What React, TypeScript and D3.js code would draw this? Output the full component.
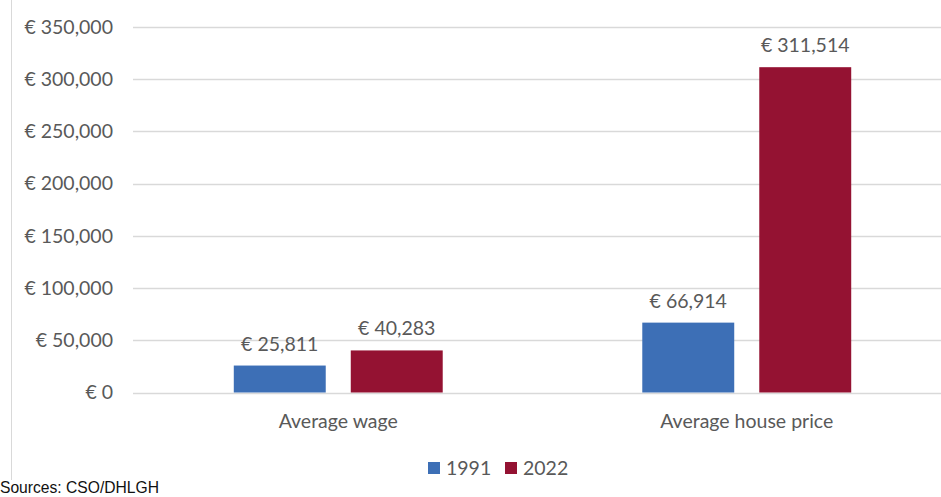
import * as d3 from "d3";
import { useEffect, useRef } from "react";

const categories = ["Average wage", "Average house price"];
const years = ["1991", "2022"];
const values1991 = [25811, 66914];
const values2022 = [40283, 311514];
const yTicks = [0, 50000, 100000, 150000, 200000, 250000, 300000, 350000];
const source = "Sources: CSO/DHLGH";

const colors: Record<string, string> = { "1991": "#3d6fb6", "2022": "#941232" };

const App = () => {
  const ref = useRef<SVGSVGElement | null>(null);

  useEffect(() => {
    document.body.style.margin = "0";
    const svg = d3.select(ref.current);
    svg.selectAll("*").remove();

    const width = 941;
    const font = "Lato, 'Open Sans', sans-serif";
    const fontSize = "19.5px";
    const textColor = "#595959";

    const x0 = d3.scaleBand().domain(categories).range([134, 951]).padding(0);
    const x1 = d3
      .scaleBand()
      .domain(years)
      .range([0, x0.bandwidth()])
      .paddingInner(0.214)
      .paddingOuter(0.853);
    const y = d3.scaleLinear().domain([0, 350000]).range([392.5, 27]);

    const rows = categories.map((c, i) => ({
      category: c,
      values: [
        { year: "1991", value: values1991[i] },
        { year: "2022", value: values2022[i] },
      ],
    }));

    // left frame line
    svg
      .append("line")
      .attr("x1", 11.5)
      .attr("x2", 11.5)
      .attr("y1", 0)
      .attr("y2", 480)
      .attr("stroke", "#d9d9d9")
      .attr("stroke-width", 1);

    // gridlines
    svg
      .append("g")
      .selectAll("line")
      .data(yTicks)
      .enter()
      .append("line")
      .attr("x1", 133)
      .attr("x2", width)
      .attr("y1", (d) => Math.round(y(d)) + 0.5)
      .attr("y2", (d) => Math.round(y(d)) + 0.5)
      .attr("stroke", "#d9d9d9")
      .attr("stroke-width", 1.5);

    // y tick labels
    svg
      .append("g")
      .selectAll("text")
      .data(yTicks)
      .enter()
      .append("text")
      .attr("x", 113)
      .attr("y", (d) => y(d))
      .attr("dy", "0.35em")
      .attr("text-anchor", "end")
      .style("font-family", font)
      .style("font-size", fontSize)
      .style("fill", textColor)
      .text((d) => `€ ${d3.format(",")(d)}`);

    const groups = svg
      .append("g")
      .selectAll("g")
      .data(rows)
      .enter()
      .append("g")
      .attr("transform", (d) => `translate(${x0(d.category)},0)`);

    groups
      .selectAll("rect")
      .data((d) => d.values)
      .enter()
      .append("rect")
      .attr("x", (d) => x1(d.year) || 0)
      .attr("y", (d) => y(d.value))
      .attr("width", x1.bandwidth())
      .attr("height", (d) => y(0) - y(d.value))
      .attr("fill", (d) => colors[d.year]);

    groups
      .selectAll("text.value")
      .data((d) => d.values)
      .enter()
      .append("text")
      .attr("class", "value")
      .attr("x", (d) => (x1(d.year) || 0) + x1.bandwidth() / 2)
      .attr("y", (d) => y(d.value) - 15)
      .attr("text-anchor", "middle")
      .style("font-family", font)
      .style("font-size", fontSize)
      .style("fill", textColor)
      .text((d) => `€ ${d3.format(",")(d.value)}`);

    // category labels
    svg
      .append("g")
      .selectAll("text")
      .data(categories)
      .enter()
      .append("text")
      .attr("x", (d) => (x0(d) || 0) + x0.bandwidth() / 2)
      .attr("y", 428)
      .attr("text-anchor", "middle")
      .style("font-family", font)
      .style("font-size", fontSize)
      .style("fill", textColor)
      .text((d) => d);

    // legend
    const legend = svg
      .append("g")
      .selectAll("g")
      .data(years)
      .enter()
      .append("g")
      .attr("transform", (_d, i) => `translate(${428 + i * 77},462)`);
    legend
      .append("rect")
      .attr("width", 12)
      .attr("height", 12)
      .attr("fill", (d) => colors[d]);
    legend
      .append("text")
      .attr("x", 18)
      .attr("y", 13)
      .style("font-family", font)
      .style("font-size", fontSize)
      .style("fill", textColor)
      .text((d) => d);

    // source note (condensed)
    svg
      .append("text")
      .attr("x", 0)
      .attr("y", 493)
      .attr("textLength", 159)
      .attr("lengthAdjust", "spacingAndGlyphs")
      .style("font-family", "'Liberation Sans', Arial, sans-serif")
      .style("font-size", "17px")
      .style("fill", "#111")
      .text(source);
  }, []);

  return <svg ref={ref} width={941} height={497} style={{ display: "block" }}></svg>;
};

export default App;
